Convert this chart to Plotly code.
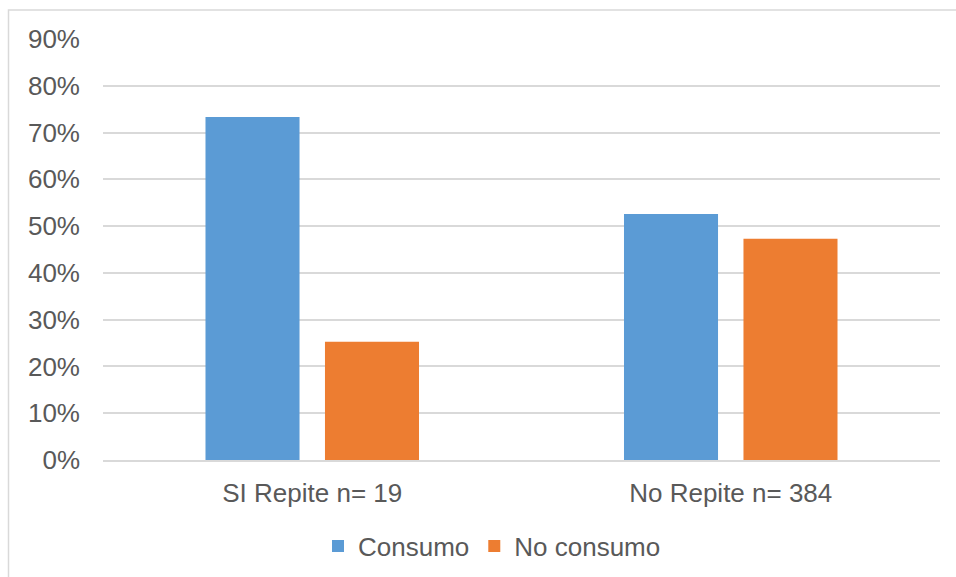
import plotly.graph_objects as go

categories = ["SI Repite n= 19", "No Repite n= 384"]
consumo = [73.3, 52.6]
no_consumo = [25.3, 47.3]
tick_values = [0, 10, 20, 30, 40, 50, 60, 70, 80, 90]
tick_labels = [f"{v}%" for v in tick_values]

W, H = 956, 577
L, R, T, B = 103, 16, 39, 116.5
pw, ph = W - L - R, H - T - B

text_color = "#595959"
grid_color = "#d9d9d9"
font = dict(family="Liberation Sans, Arial, sans-serif", size=26, color=text_color)

fig = go.Figure()
fig.add_trace(go.Bar(name="Consumo", x=categories, y=consumo, marker=dict(color="#5B9BD5", line=dict(width=0))))
fig.add_trace(go.Bar(name="No consumo", x=categories, y=no_consumo, marker=dict(color="#ED7D31", line=dict(width=0))))

# outer chart frame (top and left edges visible, right/bottom run off the page)
fig.add_shape(
    type="rect", xref="paper", yref="paper",
    x0=(8.5 - L) / pw, x1=(W + 20 - L) / pw,
    y0=(T + ph - (H + 20)) / ph, y1=(T + ph - 10) / ph,
    line=dict(color=grid_color, width=1.5), fillcolor="rgba(0,0,0,0)", layer="below",
)

fig.update_layout(
    width=W, height=H,
    margin=dict(l=L, r=R, t=T, b=B, pad=0),
    paper_bgcolor="white", plot_bgcolor="white",
    font=font,
    barmode="group", bargap=0.429, bargroupgap=0.213,
    showlegend=True,
    legend=dict(
        orientation="h", xref="paper", x=(492 - L) / pw, xanchor="center",
        yref="container", y=1 - 546 / H, yanchor="middle",
        font=font, bgcolor="rgba(0,0,0,0)", itemclick=False,
        tracegroupgap=0, itemwidth=30,
    ),
    xaxis=dict(
        showgrid=False, showline=True, linecolor=grid_color, linewidth=1.5,
        ticks="", ticklabelstandoff=9, tickfont=font,
    ),
    yaxis=dict(
        range=[0, 90], tickvals=tick_values, ticktext=tick_labels,
        showgrid=True, gridcolor=grid_color, gridwidth=1.5,
        zeroline=False, showline=False, ticks="", ticklabelstandoff=22, tickfont=font,
    ),
)

fig.write_html("out.html")
